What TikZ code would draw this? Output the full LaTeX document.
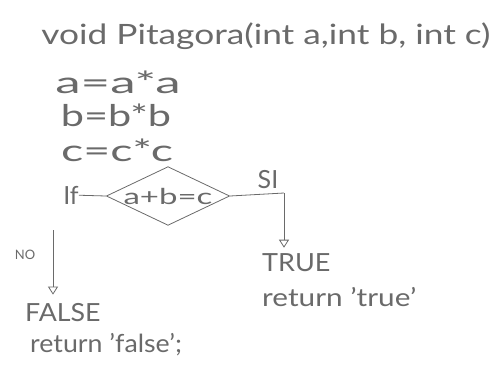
\documentclass[tikz,border=0pt]{standalone}
\usepackage{fontspec}
\setmainfont{Lato}
\usetikzlibrary{shapes.geometric, arrows.meta, positioning, calc}

\definecolor{pencil}{HTML}{6A6A6A}
% wide handwriting: horizontal stretch of a text
\newcommand{\hwide}[2]{\scalebox{#1}[1]{#2}}

\begin{document}
\begin{tikzpicture}[
    x=1pt, y=-1pt,
    every node/.style={text=pencil, inner sep=0pt},
    hand/.style ={font=\fontsize{25}{28}\selectfont},
    code/.style ={font=\fontsize{30}{33}\selectfont},
    small/.style={font=\fontsize{13}{15}\selectfont},
    cond/.style ={diamond, draw=pencil, thick, aspect=2.1,
                  minimum width=120pt, minimum height=58pt, inner sep=0pt,
                  font=\fontsize{22}{25}\selectfont},
    wire/.style ={draw=pencil, thick},
    arr/.style  ={wire, -{Triangle[open, length=8pt, width=10pt]}}
]
\useasboundingbox (0,0) rectangle (493,367);

% Header and assignments
\node[hand, font=\fontsize{28}{31}\selectfont] (head) at (266,36)
     {\hwide{1.26}{void Pitagora(int a,int b, int c)}};
\node[code] (asq)  at (118,82)  {\hwide{1.7}{a=a*a}};
\node[code] (bsq)  at (116,115) {\hwide{1.38}{b=b*b}};
\node[code] (csq)  at (117,150) {\hwide{1.55}{c=c*c}};

% Decision
\node[hand] (iflab) at (71,195) {If};
\node[cond] (dec)   at (168,196) {\hwide{1.5}{a+b=c}};
\node[hand] (silab) at (268,180) {SI};
\node[small] (nolab) at (25,255) {NO};

% Results
\node[hand, anchor=west] (truelab) at (262,263) {\hwide{1.08}{TRUE}};
\node[hand, anchor=west] (rettrue) at (262,297) {\hwide{1.19}{return 'true'}};
\node[hand, anchor=west] (falselab) at (25,313) {\hwide{1.07}{FALSE}};
\node[hand, anchor=west] (retfalse) at (30,345) {\hwide{1.07}{return 'false';}};

\coordinate (sicorner) at (284,193);
\coordinate (nostart)  at (53,230);

% Connectors
\draw[wire] (iflab) -- (dec.west);
\draw[wire] (dec.east) -- (sicorner);
\draw[arr, shorten >=6pt]  (sicorner) -- (sicorner |- truelab.north);
\draw[arr, shorten >=9pt]  (nostart) -- (nostart |- falselab.north);
\end{tikzpicture}
\end{document}
